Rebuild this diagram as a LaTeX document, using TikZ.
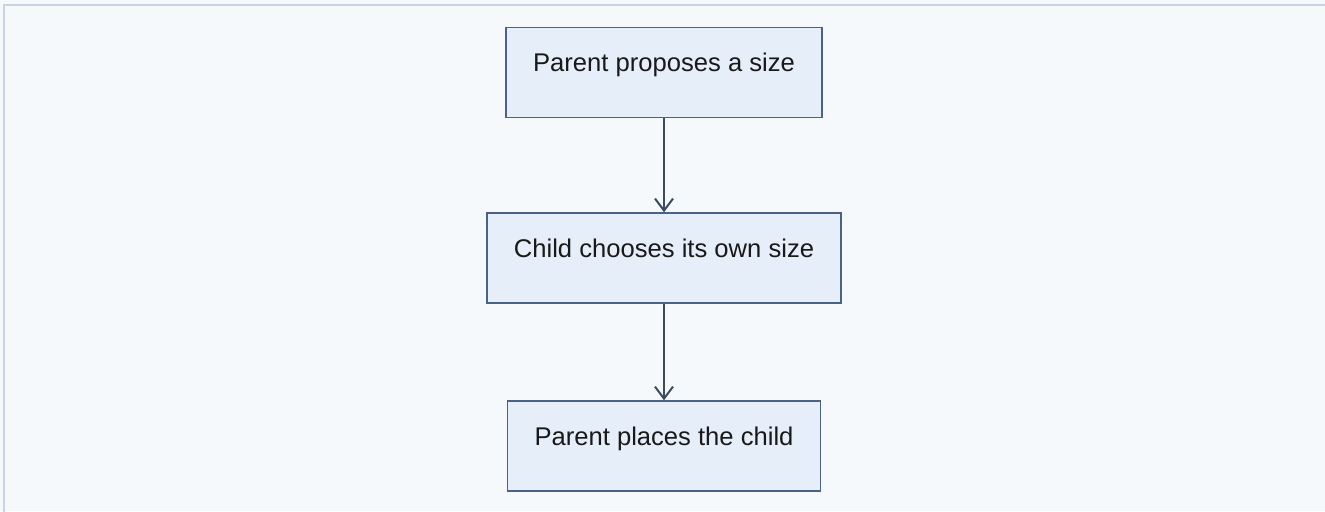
\documentclass[tikz,border=0pt]{standalone}
\usepackage{fontspec}
\setmainfont{Liberation Sans}
\usepackage{xcolor}
\usetikzlibrary{arrows.meta}

\definecolor{pagebg}{HTML}{F5F9FC}
\definecolor{pageline}{HTML}{C8D4E4}
\definecolor{boxfill}{HTML}{E6EEF9}
\definecolor{boxline}{HTML}{4A6285}
\definecolor{arrowcol}{HTML}{3D4B60}

\begin{document}
\begin{tikzpicture}[x=0.5pt,y=-0.5pt]

\useasboundingbox (0,0) rectangle (1325,511);
\fill[pagebg] (0,0) rectangle (1325,511);
\draw[pageline, line width=1.2pt] (4,520) -- (4,5) -- (1330,5);

\tikzset{
    stepbox/.style={
        draw=boxline,
        fill=boxfill,
        line width=0.75pt,
        inner xsep=13.5pt,
        text height=9.2pt,
        text depth=10pt,
        minimum height=45pt,
        font=\fontsize{12.8pt}{15pt}\selectfont,
        text=black!90
    },
    flow/.style={
        draw=arrowcol,
        line width=1pt,
        -{Straight Barb[length=6pt,width=9pt,line width=1pt]}
    }
}

\node[stepbox] (propose) at (664,72.5)
{Parent proposes a size};

\node[stepbox] (choose) at (664,258)
{Child chooses its own size};

\node[stepbox] (place) at (664,446)
{Parent places the child};

\draw[flow] (propose) -- (choose);
\draw[flow] (choose) -- (place);

\end{tikzpicture}
\end{document}
